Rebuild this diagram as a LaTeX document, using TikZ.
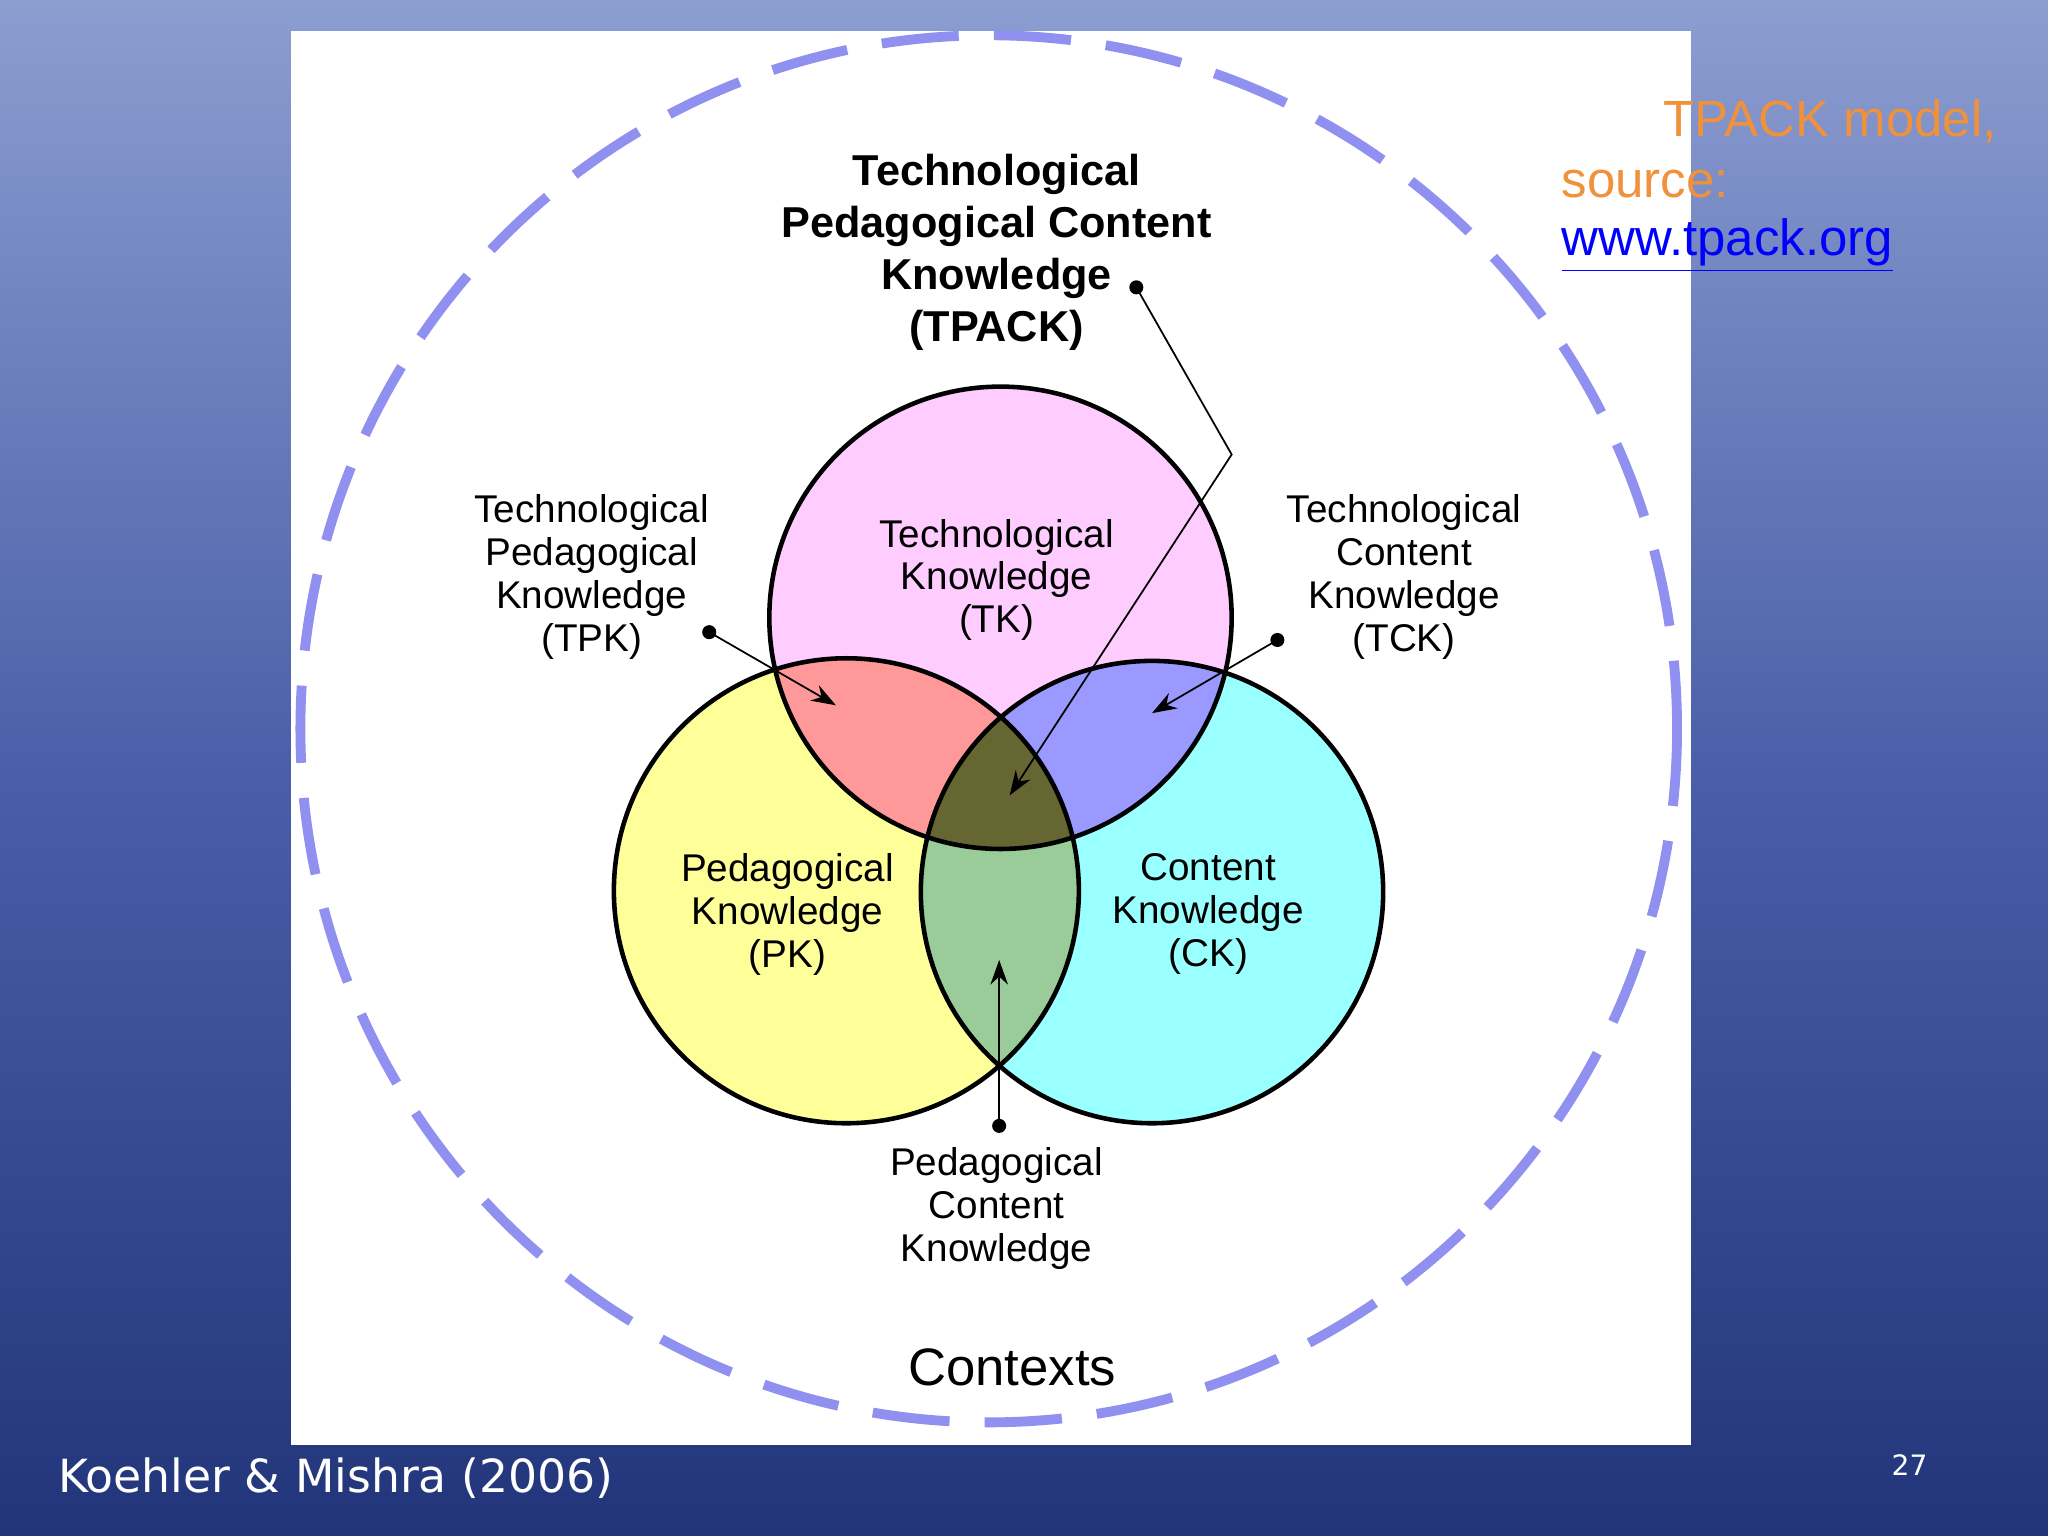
\documentclass[tikz,border=0pt]{standalone}
\usepackage{fontspec}
\setmainfont{Liberation Sans}
\newfontfamily\djv{DejaVu Sans}
\usetikzlibrary{arrows.meta}
\definecolor{ctk}{HTML}{FFCCFF}
\definecolor{cpk}{HTML}{FFFF99}
\definecolor{cck}{HTML}{99FFFF}
\definecolor{ctp}{HTML}{FF9999}
\definecolor{ctc}{HTML}{9999FF}
\definecolor{cpc}{HTML}{99CC99}
\definecolor{call}{HTML}{666633}
\definecolor{dashc}{HTML}{9090F0}
\definecolor{orng}{HTML}{F0913C}
\definecolor{bgtop}{HTML}{8C9DD0}
\definecolor{bgmid}{HTML}{4A5FA8}
\definecolor{bgbot}{HTML}{22357A}
\tikzset{lbl/.style={align=center,font=\fontsize{11}{12.2}\selectfont,inner sep=0pt},
ptr/.style={line width=0.5pt,-{Stealth[length=7pt,width=5pt]}},
dotc/.style={circle,fill=black,inner sep=0pt,minimum size=4pt}}
\begin{document}
\begin{tikzpicture}[x=0.01306cm,y=-0.01306cm]
\useasboundingbox (0,0) rectangle (1568,1176);
\shade[top color=bgtop, bottom color=bgbot, middle color=bgmid] (0,0) rectangle (1568,1176);
\fill[white] (223,24) rectangle (1295,1106);
\draw[dashc,line width=2.8pt,dash pattern=on 22pt off 10pt] (757,558) ellipse [x radius=527,y radius=531];
% circles
\def\TK{(766,473) circle [radius=177]}
\def\PK{(648,682) circle [radius=178]}
\def\CK{(882,683) circle [radius=177]}
\fill[ctk] \TK; \fill[cpk] \PK; \fill[cck] \CK;
\begin{scope}\clip \TK; \fill[ctp] \PK; \fill[ctc] \CK; \end{scope}
\begin{scope}\clip \PK; \fill[cpc] \CK; \end{scope}
\begin{scope}\clip \TK; \clip \PK; \fill[call] \CK; \end{scope}
\draw[line width=1.3pt] \TK; \draw[line width=1.3pt] \PK; \draw[line width=1.3pt] \CK;
% labels
\node[lbl,font=\bfseries\fontsize{12.3}{14.8}\selectfont] (tpack) at (763,193) {Technological\\Pedagogical Content\\Knowledge\\(TPACK)};
\node[lbl] (tk) at (763,444) {Technological\\Knowledge\\(TK)};
\node[lbl] (pk) at (603,700) {Pedagogical\\Knowledge\\(PK)};
\node[lbl] (ck) at (925,700) {Content\\Knowledge\\(CK)};
\node[lbl] (tpk) at (453,442) {Technological\\Pedagogical\\Knowledge\\(TPK)};
\node[lbl] (tck) at (1075,442) {Technological\\Content\\Knowledge\\(TCK)};
\node[lbl] (pck) at (763,925) {Pedagogical\\Content\\Knowledge};
\node[inner sep=0pt,font=\fontsize{15}{18}\selectfont] (ctx) at (775,1047) {Contexts};
% pointers
\node[dotc] (d1) at (870,220) {};
\coordinate (b1) at (943,348);
\coordinate (a1) at (773,609);
\draw[ptr] (d1.center) -- (b1) -- (a1);
\node[dotc] (d2) at (543,484) {};
\coordinate (a2) at (640,540);
\draw[ptr] (d2.center) -- (a2);
\node[dotc] (d3) at (978,490) {};
\coordinate (a3) at (882,546);
\draw[ptr] (d3.center) -- (a3);
\node[dotc] (d4) at (765,862) {};
\coordinate (a4) at (765,735);
\draw[ptr] (d4.center) -- (a4);
% slide texts
\node[anchor=west,inner sep=0pt,text=orng,font=\fontsize{14.5}{17}\selectfont] (t1) at (1273,93) {TPACK model,};
\node[anchor=west,inner sep=0pt,text=orng,font=\fontsize{14.5}{17}\selectfont] (t2) at (1195,141) {source:};
\node[anchor=west,inner sep=0pt,text=blue,font=\fontsize{14.5}{17}\selectfont] (t3) at (1195,188) {\underline{www.tpack.org}};
\node[anchor=west,inner sep=0pt,text=white,font=\djv\fontsize{13}{16}\selectfont] (kw) at (44,1132) {Koehler \& Mishra (2006)};
\node[inner sep=0pt,text=white,font=\djv\fontsize{8}{10}\selectfont] (pg) at (1462,1122) {27};
\end{tikzpicture}
\end{document}
